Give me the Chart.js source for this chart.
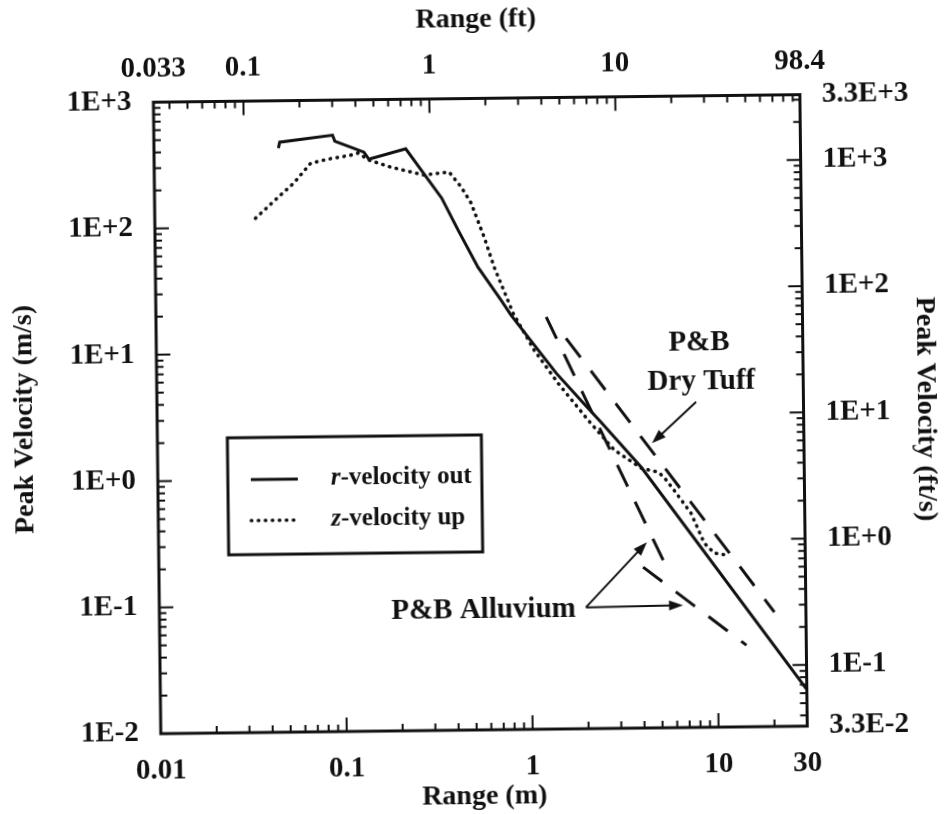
<!DOCTYPE html>
<html>
<head>
<meta charset="utf-8">
<script src="https://cdn.jsdelivr.net/npm/chart.js@4"></script>
<style>
html,body{margin:0;padding:0;background:#fff;overflow:hidden}
#wrap{width:946px;height:814px;transform:rotate(-0.67deg);background:#fff}
</style>
</head>
<body>
<div id="wrap"><canvas id="chart"></canvas></div>
<script>
// r-velocity out (solid)
const rRange = [0.0467, 0.0475, 0.0914, 0.094, 0.1346, 0.143, 0.226, 0.35, 0.427, 0.543, 0.719, 0.813, 1.06, 1.41, 1.99, 2.44, 3.99, 30];
const rVel = [421, 470, 528, 473, 385, 338, 405, 164, 91.2, 46.2, 25.2, 19.1, 11.4, 6.57, 3.71, 2.66, 1.16, 0.0195];

// z-velocity up (dotted)
const zRange = [0.0348, 0.0464, 0.0562, 0.0695, 0.0859, 0.1143, 0.125, 0.143, 0.1876, 0.2825, 0.385, 0.446, 0.503, 0.589, 0.664, 0.834, 1.076, 1.44, 2.08, 2.86, 3.99, 4.90, 5.27, 5.96, 7.33, 8.61, 9.73, 11.3];
const zVel = [118, 173, 222, 318, 341, 365, 379, 333, 291, 250, 263, 200, 149, 79.8, 46.0, 19.8, 10.07, 5.47, 2.77, 1.60, 1.14, 1.06, 0.966, 0.76, 0.498, 0.287, 0.239, 0.230];

// P&B fits (dashed)
const tuffRange = [1.6, 20.3];
const tuffVel = [12.4, 0.0805];
const alluvRange1 = [1.256, 5.16];
const alluvVel1 = [18.3, 0.212];
const alluvRange2 = [4.02, 14.3];
const alluvVel2 = [0.188, 0.0443];

const FT = 3.2808;
const xTicksM = [0.01, 0.1, 1, 10, 30];
const xLabelsM = ['0.01', '0.1', '1', '10', '30'];
const xTicksFt = [0.01 * FT, 0.1, 1, 10, 30 * FT];
const xLabelsFt = ['0.033', '0.1', '1', '10', '98.4'];
const yTicksMs = [0.01, 0.1, 1, 10, 100, 1000];
const yLabelsMs = ['1E-2', '1E-1', '1E+0', '1E+1', '1E+2', '1E+3'];
const yTicksFts = [0.01 * FT, 0.1, 1, 10, 100, 1000, 1000 * FT];
const yLabelsFts = ['3.3E-2', '1E-1', '1E+0', '1E+1', '1E+2', '1E+3', '3.3E+3'];

const SERIF = '"Liberation Serif", "Times New Roman", serif';
const INK = '#111';

function pts(xs, ys) { return xs.map((x, i) => ({x: x, y: ys[i]})); }

function logTicks(min, max) {
    const out = [];
    for (let k = Math.floor(Math.log10(min)); k <= Math.ceil(Math.log10(max)); k++) {
        for (let m = 1; m <= 9; m++) {
            const v = m * Math.pow(10, k);
            if (v >= min * 0.999 && v <= max * 1.001) out.push({v: v, major: m === 1});
        }
    }
    return out;
}

/* frame + inward ticks */
const framePlugin = {
    id: 'frame',
    afterDatasetsDraw(chart) {
        const {ctx, chartArea: a, scales} = chart;
        ctx.save();
        ctx.strokeStyle = INK;
        ctx.lineWidth = 2;
        ctx.beginPath();
        logTicks(scales.x.min, scales.x.max).forEach(t => {
            const p = scales.x.getPixelForValue(t.v), l = t.major ? 14 : 7;
            ctx.moveTo(p, a.bottom); ctx.lineTo(p, a.bottom - l);
        });
        logTicks(scales.x2.min, scales.x2.max).forEach(t => {
            const p = scales.x2.getPixelForValue(t.v), l = t.major ? 14 : 7;
            ctx.moveTo(p, a.top); ctx.lineTo(p, a.top + l);
        });
        logTicks(scales.y.min, scales.y.max).forEach(t => {
            const p = scales.y.getPixelForValue(t.v), l = t.major ? 14 : 7;
            ctx.moveTo(a.left, p); ctx.lineTo(a.left + l, p);
        });
        logTicks(scales.y2.min, scales.y2.max).forEach(t => {
            const p = scales.y2.getPixelForValue(t.v), l = t.major ? 14 : 7;
            ctx.moveTo(a.right, p); ctx.lineTo(a.right - l, p);
        });
        ctx.stroke();
        ctx.lineWidth = 3;
        ctx.strokeRect(a.left, a.top, a.right - a.left, a.bottom - a.top);
        ctx.restore();
    }
};

/* labels and arrows for the P&B curves */
const notes = [
    {text: 'P&B', x: 8.3, y: 11.1},
    {text: 'Dry Tuff', x: 8.5, y: 5.43},
    {text: 'P&B Alluvium', x: 0.554, y: 0.0883}
];
const arrows = [
    {from: [7.94, 3.77], to: [4.57, 1.80]},
    {from: [1.97, 0.0914], to: [4.23, 0.296]},
    {from: [1.97, 0.0914], to: [6.56, 0.093]}
];

const notePlugin = {
    id: 'notes',
    afterDraw(chart) {
        const {ctx, scales} = chart;
        ctx.save();
        ctx.fillStyle = INK;
        ctx.strokeStyle = INK;
        ctx.font = 'bold 29px ' + SERIF;
        ctx.textAlign = 'center';
        ctx.textBaseline = 'middle';
        notes.forEach(n => {
            ctx.fillText(n.text, scales.x.getPixelForValue(n.x), scales.y.getPixelForValue(n.y));
        });
        ctx.lineWidth = 2;
        arrows.forEach(ar => {
            const x1 = scales.x.getPixelForValue(ar.from[0]), y1 = scales.y.getPixelForValue(ar.from[1]);
            const x2 = scales.x.getPixelForValue(ar.to[0]), y2 = scales.y.getPixelForValue(ar.to[1]);
            const ang = Math.atan2(y2 - y1, x2 - x1);
            ctx.beginPath();
            ctx.moveTo(x1, y1);
            ctx.lineTo(x2 - 10 * Math.cos(ang), y2 - 10 * Math.sin(ang));
            ctx.stroke();
            ctx.beginPath();
            ctx.moveTo(x2, y2);
            ctx.lineTo(x2 - 14 * Math.cos(ang) + 5 * Math.sin(ang), y2 - 14 * Math.sin(ang) - 5 * Math.cos(ang));
            ctx.lineTo(x2 - 14 * Math.cos(ang) - 5 * Math.sin(ang), y2 - 14 * Math.sin(ang) + 5 * Math.cos(ang));
            ctx.closePath();
            ctx.fill();
        });

        // boxed legend
        const bx = 227, by = 435, bw = 254, bh = 117;
        ctx.lineWidth = 3;
        ctx.strokeRect(bx, by, bw, bh);
        const rows = [
            {ds: chart.data.datasets[0], it: 'r', rest: '-velocity out', y: by + 42},
            {ds: chart.data.datasets[1], it: 'z', rest: '-velocity up', y: by + 83}
        ];
        ctx.textAlign = 'left';
        rows.forEach(r => {
            ctx.save();
            ctx.lineWidth = r.ds.borderWidth;
            ctx.setLineDash(r.ds.borderDash || []);
            ctx.lineCap = r.ds.borderCapStyle || 'butt';
            ctx.beginPath();
            ctx.moveTo(bx + 23, r.y); ctx.lineTo(bx + 70, r.y);
            ctx.stroke();
            ctx.restore();
            ctx.font = 'italic bold 25px ' + SERIF;
            ctx.fillText(r.it, bx + 103, r.y);
            const w = ctx.measureText(r.it).width;
            ctx.font = 'bold 25px ' + SERIF;
            ctx.fillText(r.rest, bx + 103 + w, r.y);
        });
        ctx.restore();
    }
};

function logAxis(position, min, max, ticks, labels, title, size, tickPad, titlePad) {
    const horiz = position === 'top' || position === 'bottom';
    return {
        type: 'logarithmic',
        position: position,
        min: min,
        max: max,
        afterBuildTicks: s => { s.ticks = ticks.map(v => ({value: v})); },
        afterFit: s => { if (horiz) s.height = size; else s.width = size; },
        grid: {display: false, drawTicks: false},
        border: {display: false},
        ticks: {
            autoSkip: false,
            maxRotation: 0,
            padding: tickPad,
            color: INK,
            font: {family: SERIF, size: 29, weight: 'bold'},
            callback: (v, i) => labels[i]
        },
        title: {
            display: true,
            text: title,
            color: INK,
            font: {family: SERIF, size: 28, weight: 'bold'},
            padding: titlePad
        }
    };
}

new Chart(document.getElementById('chart'), {
    type: 'line',
    data: {
        datasets: [{
            label: 'r-velocity out',
            data: pts(rRange, rVel),
            borderColor: INK,
            borderWidth: 3,
            pointRadius: 0,
            xAxisID: 'x', yAxisID: 'y'
        }, {
            label: 'z-velocity up',
            data: pts(zRange, zVel),
            borderColor: INK,
            borderWidth: 3.5,
            borderDash: [0.5, 6.5],
            borderCapStyle: 'round',
            pointRadius: 0,
            xAxisID: 'x', yAxisID: 'y'
        }, {
            label: 'P&B Dry Tuff',
            data: pts(tuffRange, tuffVel),
            borderColor: INK,
            borderWidth: 3,
            borderDash: [24, 17],
            pointRadius: 0,
            xAxisID: 'x', yAxisID: 'y'
        }, {
            label: 'P&B Alluvium',
            data: pts(alluvRange1, alluvVel1),
            borderColor: INK,
            borderWidth: 3,
            borderDash: [24, 17],
            pointRadius: 0,
            xAxisID: 'x', yAxisID: 'y'
        }, {
            label: 'P&B Alluvium (2)',
            data: pts(alluvRange2, alluvVel2),
            borderColor: INK,
            borderWidth: 3,
            borderDash: [24, 17],
            pointRadius: 0,
            xAxisID: 'x', yAxisID: 'y'
        }]
    },
    options: {
        responsive: true,
        maintainAspectRatio: false,
        animation: false,
        layout: {padding: 0},
        plugins: {legend: {display: false}, tooltip: {enabled: false}},
        scales: {
            x: logAxis('bottom', 0.01, 30, xTicksM, xLabelsM, 'Range (m)', 84, 20, {top: 0, bottom: 0}),
            x2: logAxis('top', 0.01 * FT, 30 * FT, xTicksFt, xLabelsFt, 'Range (ft)', 98.5, 16, {top: 3, bottom: 0}),
            y: logAxis('left', 0.01, 1000, yTicksMs, yLabelsMs, 'Peak Velocity (m/s)', 157, 22, {top: 8, bottom: 0}),
            y2: logAxis('right', 0.01 * FT, 1000 * FT, yTicksFts, yLabelsFts, 'Peak Velocity (ft/s)', 142.5, 22, {top: 4, bottom: 0})
        }
    },
    plugins: [framePlugin, notePlugin]
});
</script>
</body>
</html>
